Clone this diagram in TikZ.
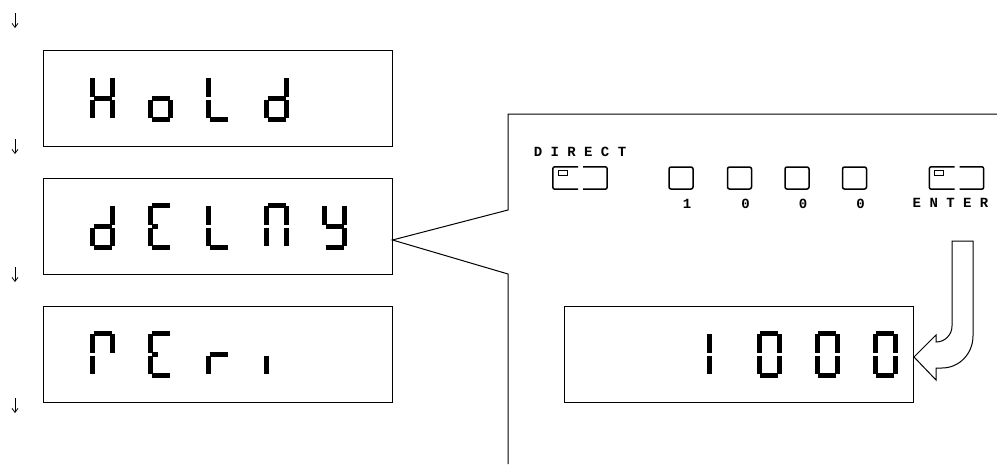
\documentclass[tikz,border=0pt]{standalone}
\usepackage{fontspec}
\setmonofont{Liberation Mono}
\usetikzlibrary{arrows.meta, positioning}

\newcommand{\lcdchar}[3]{%
  \begin{scope}[shift={(#1,#2)}]
    \coordinate (a1) at (1,0);     \coordinate (a2) at (19,0);
    \coordinate (b1) at (20,1);    \coordinate (b2) at (20,19.5);
    \coordinate (c1) at (20,22.5); \coordinate (c2) at (20,41);
    \coordinate (d1) at (1,42);    \coordinate (d2) at (19,42);
    \coordinate (e1) at (0,22.5);  \coordinate (e2) at (0,41);
    \coordinate (f1) at (0,1);     \coordinate (f2) at (0,19.5);
    \coordinate (g1) at (1,21);    \coordinate (g2) at (19,21);
    \coordinate (h1) at (1,21);    \coordinate (h2) at (7,21);
    \edef\lcdsegs{#3}%
    \foreach \s in \lcdsegs \draw[lcdseg] (\s1) -- (\s2);
  \end{scope}}

\begin{document}
\begin{tikzpicture}[x=1pt, y=-1pt, >={Straight Barb[length=4pt,width=6pt]},
    lcd/.style={draw, line width=1pt, minimum width=349pt, minimum height=96pt},
    lcdseg/.style={line width=5pt},
    key/.style={draw, line width=1.5pt, rounded corners=2pt,
      minimum width=24pt, minimum height=22pt},
    widekey/.style={minimum width=54pt, minimum height=22pt},
    keyline/.style={line width=1.5pt, rounded corners=2pt},
    led/.style={draw, line width=0.8pt, minimum width=9pt, minimum height=5pt,
      inner sep=0pt, anchor=north west},
    keytext/.style={font=\ttfamily\bfseries\fontsize{14}{14}\selectfont, inner sep=0pt},
    flow/.style={->, line width=0.8pt},
    panel/.style={line width=1pt}]
  \useasboundingbox (0,0) rectangle (997,464);

  \node[lcd] (hold) at (217.5,98) {};
  \node[lcd] (delay) at (217.5,226) {};
  \node[lcd] (peri) at (217.5,354) {};
  \node[lcd] (value) at (739,354) {};

  \foreach \segs [count=\i] in {{b,c,e,f,g},{c,d,e,g},{d,e,f},{b,c,d,e,g}}
    \lcdchar{34.5+58*\i}{77}{\segs};
  \foreach \segs [count=\i] in {{b,c,d,e,g},{a,d,e,f,h},{d,e,f},{a,b,c,e,f},{b,c,d,f,g}}
    \lcdchar{34.5+58*\i}{205}{\segs};
  \foreach \segs [count=\i] in {{a,b,e,f},{a,d,e,f,h},{e,g},{e}}
    \lcdchar{34.5+58*\i}{333}{\segs};
  \lcdchar{709}{333}{e,f}
  \foreach \x in {759,817,875}
    \lcdchar{\x}{333}{a,b,c,d,e,f};

  \foreach \y [count=\i] in {13,139,267,398} {
    \coordinate (u\i) at (15,\y);
    \coordinate (v\i) at (15,\y+15);
    \draw[flow] (u\i) -- (v\i);
  }

  \coordinate (pright) at (997,114);
  \coordinate (ptop) at (508,114);
  \coordinate (pup) at (508,210);
  \coordinate (plow) at (508,274);
  \coordinate (pbot) at (508,464);
  \coordinate (tip) at ([yshift=-14pt]delay.east);
  \draw[panel] (pright) -- (ptop) -- (pup) -- (tip) -- (plow) -- (pbot);

  \node[widekey] (direct) at (580,178) {};
  \node[keytext, above=10pt of direct] (dlabel) {D I R E C T};
  \node[widekey] (enter) at (956.5,178) {};
  \node[keytext, below=9pt of enter, xshift=-6pt] (elabel) {E N T E R};
  \foreach \k in {direct, enter} {
    \draw[keyline] ([xshift=-2pt]\k.north) -| (\k.south west) -- ([xshift=-2pt]\k.south);
    \draw[keyline] ([xshift=3pt]\k.north) -| (\k.south east) -- ([xshift=3pt]\k.south);
    \node[led] (\k led) at ([xshift=5pt, yshift=-3pt]\k.north west) {};
  }

  \foreach \x/\d [count=\i] in {681/1, 739.5/0, 797/0, 854.5/0} {
    \node[key] (k\i) at (\x,178) {};
    \node[keytext, below=9pt of k\i, xshift=6pt] (n\i) {\d};
  }

  \draw[line width=1pt] (952,241) -- (952,326) to[out=-90,in=0] (936,342)
    -- (936,335) -- (914,357) -- (936,380) -- (936,368) -- (942,368)
    to[out=0,in=-90] (973,336) -- (973,241) -- cycle;
\end{tikzpicture}
\end{document}
